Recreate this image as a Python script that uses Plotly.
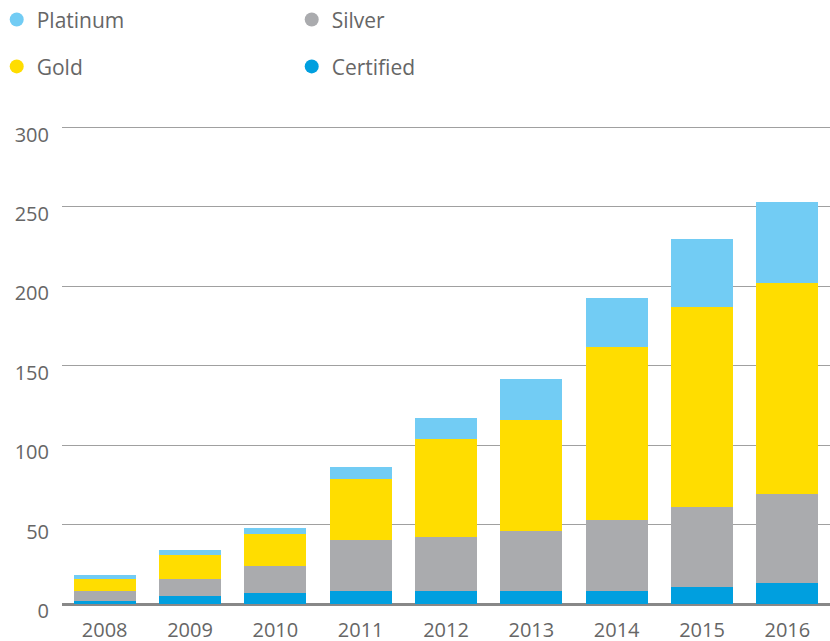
import plotly.graph_objects as go

years = ["2008", "2009", "2010", "2011", "2012", "2013", "2014", "2015", "2016"]
certified = [2, 5, 7, 8, 8, 8, 8, 11, 13]
silver = [6, 11, 17, 32, 34, 38, 45, 50, 56]
gold = [8, 15, 20, 39, 62, 70, 109, 126, 133]
platinum = [2, 3, 4, 7, 13, 26, 31, 43, 51]
y_ticks = [0, 50, 100, 150, 200, 250, 300]

colors = {
    "Certified": "#009fdf",
    "Silver": "#aaabae",
    "Gold": "#ffdd00",
    "Platinum": "#72ccf4",
}
font_family = "Open Sans"
text_color = "#666666"

fig = go.Figure()

# stacked bars, bottom to top
for name, vals in [("Certified", certified), ("Silver", silver),
                   ("Gold", gold), ("Platinum", platinum)]:
    fig.add_trace(go.Bar(
        x=years, y=vals, name=name,
        marker=dict(color=colors[name], line=dict(width=0)),
        legendgroup=name, showlegend=False,
    ))

# legend entries with round markers, in two rows
legend_rows = {"legend": ["Platinum", "Silver"], "legend2": ["Gold", "Certified"]}
for leg, names in legend_rows.items():
    for name in names:
        fig.add_trace(go.Scatter(
            x=[None], y=[None], mode="markers", name=name,
            marker=dict(color=colors[name], size=14, symbol="circle"),
            legendgroup=name, legend=leg,
        ))

legend_common = dict(
    orientation="h", xanchor="left", yanchor="middle",
    font=dict(family=font_family, size=21, color=text_color),
    bgcolor="rgba(0,0,0,0)", entrywidth=250, entrywidthmode="pixels",
    itemclick=False,
)

fig.update_layout(
    barmode="stack",
    bargap=0.27,
    width=830, height=641,
    margin=dict(l=62, r=0, t=126, b=37, autoexpand=False),
    plot_bgcolor="white", paper_bgcolor="white",
    font=dict(family=font_family, color=text_color),
    legend=dict(x=-0.085, y=1.222, **legend_common),
    legend2=dict(x=-0.085, y=1.124, **legend_common),
    xaxis=dict(
        showgrid=False, showline=False, ticks="",
        tickfont=dict(size=20, color=text_color),
        ticklabelstandoff=12,
    ),
    yaxis=dict(
        range=[0, 301], tickvals=y_ticks,  # a bit of headroom so the 300 gridline shows
        showgrid=True, gridcolor="#a0a0a0", gridwidth=1,
        zeroline=True, zerolinecolor="#888888", zerolinewidth=3,
        showline=False, ticks="",
        tickfont=dict(size=20, color=text_color),
        ticklabelstandoff=12, ticklabelshift=7,
    ),
)

# page has a default body margin; drop it so the figure sits at the corner
fig.write_html("out.html", config={"displayModeBar": False},
               post_script="document.body.style.margin='0';")
